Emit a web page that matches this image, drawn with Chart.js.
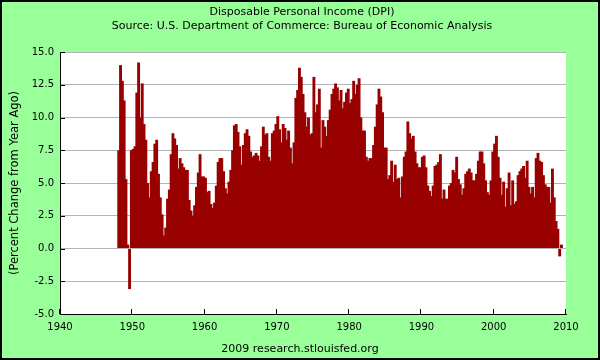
<!DOCTYPE html>
<html>
<head>
<meta charset="utf-8">
<title>Disposable Personal Income (DPI)</title>
<script src="https://cdn.jsdelivr.net/npm/chart.js@4.4.1/dist/chart.umd.min.js"></script>
<style>
  html, body { margin: 0; padding: 0; background: #99ff99; }
  canvas { display: block; }
</style>
</head>
<body>
<canvas id="dpiChart" width="600" height="360"></canvas>
<script>
// Quarterly data, percent change from year ago, first quarter is 1948 Q1
const startYear = 1948;
const dpiChange = [
    7.5, 14.0, 12.8, 11.3,   // 1948
    5.3, 0.3, -3.1, 7.5,     // 1949
    7.6, 7.8, 11.9, 14.2,    // 1950
    10.0, 12.6, 9.5, 8.3,
    5.0, 3.9, 5.9, 6.6,
    8.0, 8.3, 5.7, 3.9,
    2.6, 1.0, 1.6, 3.8,
    4.5, 7.2, 8.8, 8.4,
    7.9, 6.1, 6.9, 6.5,
    6.2, 6.0, 6.0, 3.7,
    2.9, 2.5, 3.3, 4.7,
    5.8, 7.2, 5.5, 5.5,
    5.4, 4.3, 4.4, 3.4,      // 1960
    3.1, 3.5, 4.8, 6.6,
    6.9, 6.9, 5.9, 4.6,
    4.2, 5.1, 6.0, 7.5,
    9.4, 9.5, 8.9, 7.8,
    6.4, 7.9, 8.8, 9.1,
    8.6, 7.4, 7.0, 7.1,
    7.3, 7.1, 6.7, 7.8,
    9.3, 8.7, 8.8, 7.0,
    6.7, 8.8, 9.0, 9.5,
    10.1, 9.1, 8.1, 9.5,     // 1970
    9.2, 8.3, 9.0, 7.7,
    6.5, 8.1, 11.5, 12.1,
    13.8, 13.1, 11.8, 10.4,
    9.3, 10.0, 8.7, 8.8,
    13.1, 10.4, 11.0, 12.2,
    7.7, 9.8, 9.3, 8.6,
    9.8, 10.6, 11.8, 12.2,
    12.6, 12.3, 11.3, 12.1,
    10.7, 11.2, 11.9, 12.2,
    11.1, 11.4, 12.8, 11.8,  // 1980
    12.5, 13.0, 10.0, 9.0,
    9.0, 7.0, 6.7, 6.9,
    6.9, 7.9, 9.3, 11.0,
    12.2, 11.6, 10.4, 7.7,
    7.7, 5.3, 5.6, 6.7,
    5.1, 6.4, 5.3, 5.4,
    3.9, 5.5, 7.0, 7.4,
    9.7, 8.8, 8.4, 8.6,
    7.4, 6.5, 6.2, 6.2,
    7.0, 7.1, 6.2, 4.8,      // 1990
    4.4, 4.0, 4.8, 6.3,
    6.4, 6.6, 7.2, 3.8,
    4.5, 3.8, 3.8, 4.8,
    5.0, 6.0, 5.8, 7.0,
    5.3, 4.9, 4.1, 4.6,
    5.7, 5.9, 6.1, 5.8,
    5.2, 5.2, 5.7, 6.7,
    7.4, 7.4, 6.5, 5.2,
    4.3, 4.1, 5.2, 7.4,
    8.0, 8.6, 7.0, 5.4,      // 2000
    4.1, 5.1, 3.2, 4.6,
    5.8, 3.3, 5.2, 3.4,
    3.6, 5.6, 5.9, 6.1,
    6.3, 5.4, 6.7, 4.7,
    4.2, 4.7, 3.9, 6.9,
    7.3, 6.7, 6.6, 5.6,
    4.9, 4.7, 4.7, 3.5,
    6.1, 3.9, 2.1, 1.5,
    -0.6, 0.3                // 2009
];

const xRange = [1940, 2010];
const yRange = [-5, 15];

const titleText = 'Disposable Personal Income (DPI)';
const subtitleText = 'Source: U.S. Department of Commerce: Bureau of Economic Analysis';
const footerText = '2009 research.stlouisfed.org';
const yAxisLabel = '(Percent Change from Year Ago)';

const FONT = '"DejaVu Sans", Verdana, sans-serif';

// each bar sits in the middle of its quarter
const points = dpiChange.map((v, i) => ({ x: startYear + i / 4 + 0.125, y: v }));

// green page, white plot, titles, inward tick marks
const frame = {
    id: 'frame',
    beforeDraw(chart) {
        const ctx = chart.ctx;
        const a = chart.chartArea;
        ctx.save();
        ctx.fillStyle = '#99ff99';
        ctx.fillRect(0, 0, chart.width, chart.height);
        ctx.fillStyle = '#ffffff';
        ctx.fillRect(a.left, a.top, a.right - a.left, a.bottom - a.top);
        ctx.restore();
    },
    afterDraw(chart) {
        const ctx = chart.ctx;
        const a = chart.chartArea;
        const xs = chart.scales.x;
        const ys = chart.scales.y;
        ctx.save();
        ctx.strokeStyle = '#000000';
        ctx.lineWidth = 1;
        ctx.beginPath();
        ys.ticks.forEach(t => {
            const py = Math.round(ys.getPixelForValue(t.value)) + 0.5;
            ctx.moveTo(a.left, py);
            ctx.lineTo(a.left + 5, py);
        });
        xs.ticks.forEach(t => {
            const px = Math.round(xs.getPixelForValue(t.value)) - 0.5;
            ctx.moveTo(px, a.bottom);
            ctx.lineTo(px, a.bottom - 5);
        });
        ctx.stroke();

        ctx.fillStyle = '#000000';
        ctx.font = '11px ' + FONT;
        ctx.textAlign = 'center';
        ctx.textBaseline = 'middle';
        ctx.fillText(titleText, 302, 12);
        ctx.fillText(subtitleText, 302, 26);
        ctx.fillText(footerText, 300, 349);

        ctx.lineWidth = 2;
        ctx.strokeRect(1, 1, chart.width - 2, chart.height - 2);
        ctx.restore();
    }
};

new Chart(document.getElementById('dpiChart'), {
    type: 'bar',
    data: {
        datasets: [{
            label: 'DPI',
            data: points,
            backgroundColor: '#990000',
            borderWidth: 0,
            categoryPercentage: 1,
            barPercentage: 1.6   // overlap a little so the bars read as one solid block
        }]
    },
    options: {
        responsive: false,
        animation: false,
        layout: { padding: { top: 52, right: 34, left: 0, bottom: 0 } },
        plugins: {
            legend: { display: false },
            tooltip: { enabled: false }
        },
        scales: {
            x: {
                type: 'linear',
                min: xRange[0],
                max: xRange[1],
                offset: false,
                grid: { display: false, drawTicks: false, offset: false },
                border: { display: true, color: '#000000', width: 1 },
                ticks: {
                    stepSize: 10,
                    autoSkip: false,
                    maxRotation: 0,
                    padding: 7,
                    color: '#000000',
                    font: { family: FONT, size: 10 },
                    callback: v => String(v)
                },
                afterFit(scale) { scale.height = 46; }
            },
            y: {
                min: yRange[0],
                max: yRange[1],
                grid: { color: '#b4b4b4', drawTicks: false },
                border: { display: true, color: '#000000', width: 1 },
                ticks: {
                    stepSize: 2.5,
                    padding: 6,
                    color: '#000000',
                    font: { family: FONT, size: 10 },
                    callback: v => v.toFixed(1)
                },
                title: {
                    display: true,
                    text: yAxisLabel,
                    color: '#000000',
                    font: { family: FONT, size: 11.5 },
                    padding: { top: 8, bottom: 0 }
                },
                afterFit(scale) { scale.width = 60; }
            }
        }
    },
    plugins: [frame]
});
</script>
</body>
</html>
